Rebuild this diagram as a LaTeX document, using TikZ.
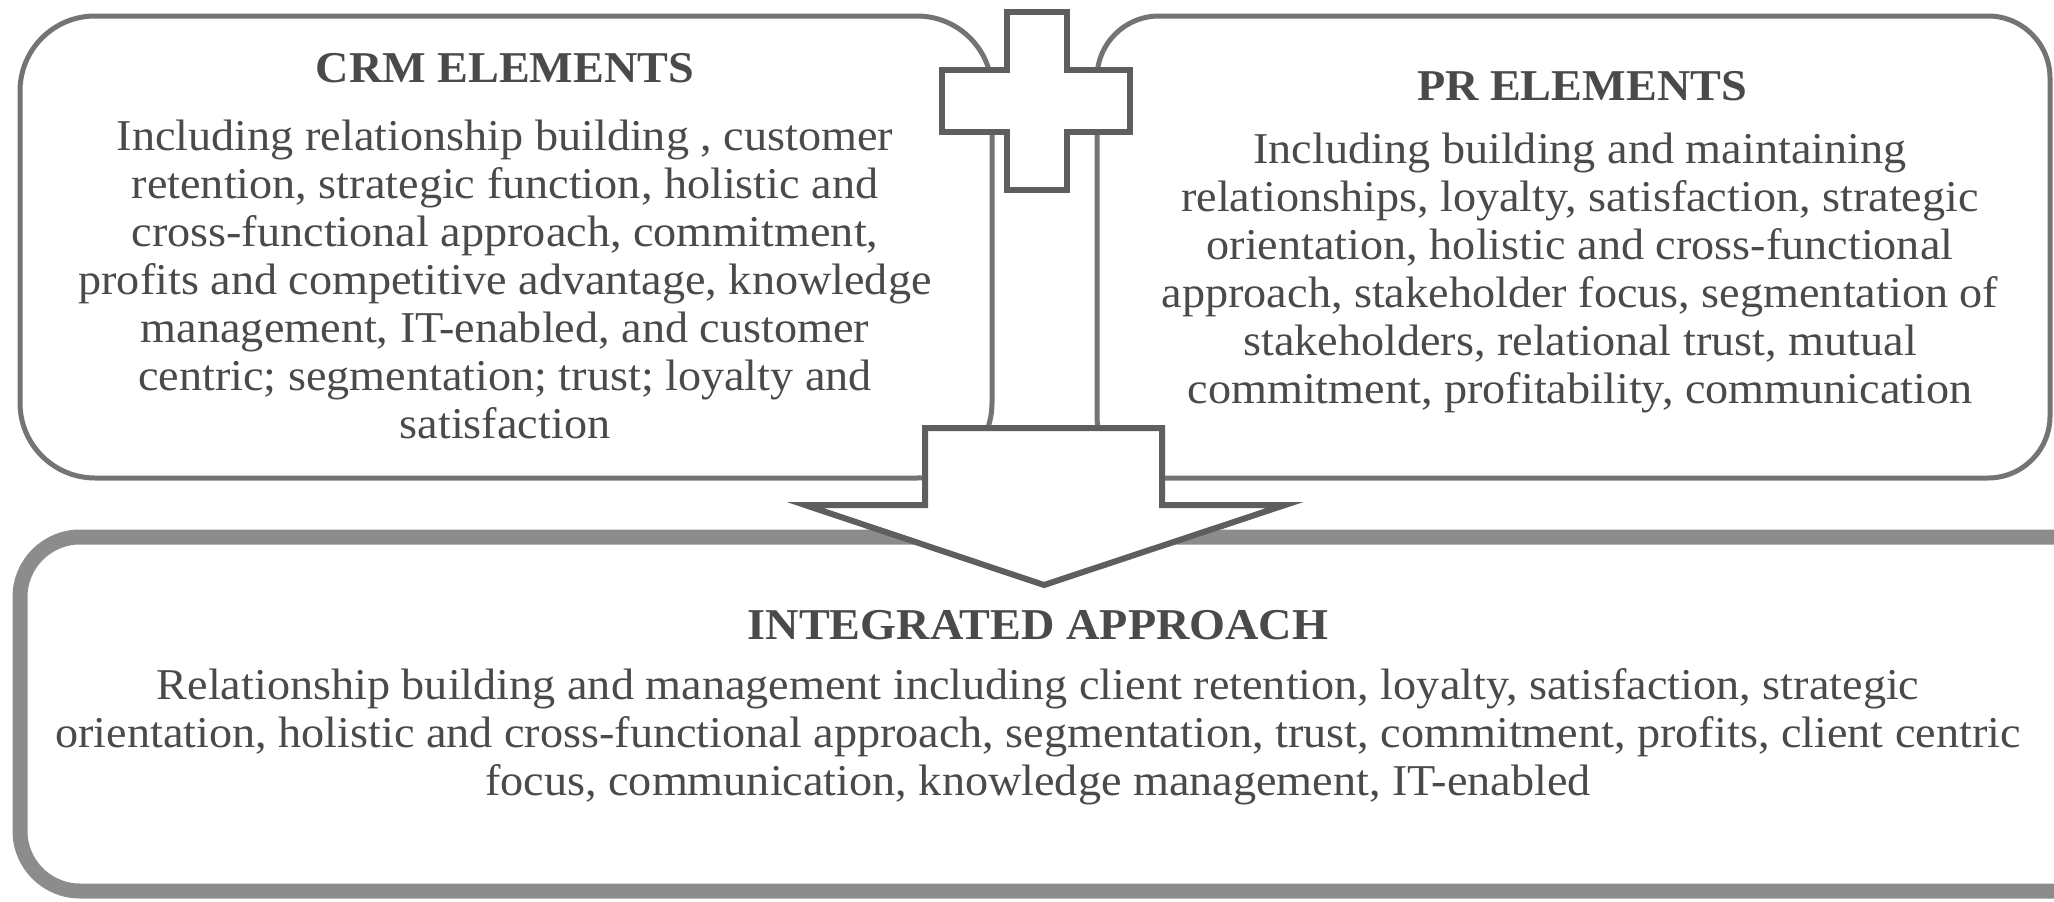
\documentclass[tikz,border=0pt]{standalone}
\usepackage{fontspec}
\setmainfont{Liberation Serif}[FakeStretch=1.05]
\definecolor{txt}{HTML}{4A4A4A}
\definecolor{edge}{HTML}{747474}
\definecolor{dark}{HTML}{5E5E5E}
\definecolor{thick}{HTML}{8C8C8C}
\tikzset{
  topbox/.style={draw=edge, line width=5pt, fill=white},
  botbox/.style={draw=thick, line width=15pt, fill=white, rounded corners=60pt},
  shapeline/.style={draw=dark, line width=6pt, fill=white, line join=miter},
  head/.style={text=txt, font=\fontsize{44}{48}\selectfont\bfseries, inner sep=0pt},
  body/.style={text=txt, font=\fontsize{44}{48}\selectfont, align=center, inner sep=0pt}
}
\begin{document}
\begin{tikzpicture}[x=1pt,y=-1pt]
\useasboundingbox (0,0) rectangle (2054,902);
\clip (0,0) rectangle (2054,902);
% boxes
\draw[topbox, rounded corners=75pt] (20,16) rectangle (992,478);
\draw[topbox, rounded corners=62pt] (1097,16) rectangle (2050,478);
\draw[botbox] (20,537) rectangle (2130,891);
% arrow
\draw[shapeline] (925,428) -- (1162,428) -- (1162,505) -- (1285,505) -- (1044,585) -- (805,505) -- (925,505) -- cycle;
% plus
\draw[shapeline] (1007,12) -- (1067,12) -- (1067,70) -- (1130,70) -- (1130,132) -- (1067,132) -- (1067,190) -- (1007,190) -- (1007,132) -- (942,132) -- (942,70) -- (1007,70) -- cycle;
% texts
\node[head] (crmhead) at (505,68) {CRM ELEMENTS};
\node[body] (crmbody) at (505,279) {Including relationship building , customer\\
retention, strategic function, holistic and\\
cross-functional approach, commitment,\\
profits and competitive advantage, knowledge\\
management, IT-enabled, and customer\\
centric; segmentation; trust; loyalty and\\
satisfaction};
\node[head] (prhead) at (1582,86) {PR ELEMENTS};
\node[body] (prbody) at (1580,273) {Including building and maintaining\\
relationships, loyalty, satisfaction, strategic\\
orientation, holistic and cross-functional\\
approach, stakeholder focus, segmentation of\\
stakeholders, relational trust, mutual\\
commitment, profitability, communication};
\node[head] (inthead) at (1038,625) {INTEGRATED APPROACH};
\node[body] (intbody) at (1038,737) {Relationship building and management including client retention, loyalty, satisfaction, strategic\\
orientation, holistic and cross-functional approach, segmentation, trust, commitment, profits, client centric\\
focus, communication, knowledge management, IT-enabled};
\end{tikzpicture}
\end{document}
